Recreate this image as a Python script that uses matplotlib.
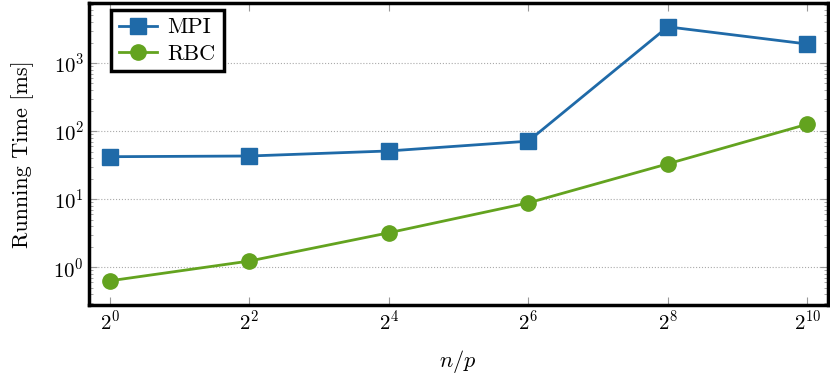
import matplotlib
matplotlib.use("Agg")
import matplotlib.pyplot as plt
from matplotlib.ticker import LogLocator, LogFormatterMathtext

plt.rcParams['font.family'] = 'serif'
plt.rcParams['font.serif'] = ['cmr10']
plt.rcParams['mathtext.fontset'] = 'cm'
plt.rcParams['axes.formatter.use_mathtext'] = True

n_over_p = [2**0, 2**2, 2**4, 2**6, 2**8, 2**10]
mpi_ms = [42, 43, 51, 71, 3400, 1900]
rbc_ms = [0.63, 1.23, 3.2, 8.8, 33, 126]

fig, ax = plt.subplots(figsize=(8.3, 3.81), dpi=100)
fig.subplots_adjust(left=0.107, right=0.997, top=0.992, bottom=0.2)

ax.plot(n_over_p, mpi_ms, color='#1f6aa8', marker='s', markersize=11, lw=2, label='MPI')
ax.plot(n_over_p, rbc_ms, color='#63a31f', marker='o', markersize=11, lw=2, label='RBC')

ax.set_xscale('log', base=2)
ax.set_yscale('log')
ax.set_xlim(2**-0.3, 2**10.29)
ax.set_ylim(0.28, 7600)
ax.xaxis.set_major_formatter(LogFormatterMathtext(base=2))
ax.xaxis.set_minor_locator(plt.NullLocator())
ax.set_xticks([2**k for k in range(0, 11, 2)])

ax.grid(axis='y', which='major', linestyle=':', color='#aaaaaa', lw=0.8)
ax.tick_params(which='both', direction='in', top=True, right=True, labelsize=15, color='#999999')
ax.tick_params(which='major', length=6)
ax.tick_params(which='minor', length=3)
for s in ax.spines.values():
    s.set_linewidth(2.5)

ax.set_xlabel('$n/p$', fontsize=16, labelpad=10)
ax.set_ylabel('Running Time [ms]', fontsize=16, labelpad=14)

leg = ax.legend(loc='upper left', bbox_to_anchor=(0.03, 0.977), borderaxespad=0,
                fontsize=16, fancybox=False, framealpha=1, edgecolor='black',
                handlelength=1.7, handletextpad=0.5, borderpad=0.35, labelspacing=0.3)
leg.get_frame().set_linewidth(2.5)

fig.savefig('out.png')
